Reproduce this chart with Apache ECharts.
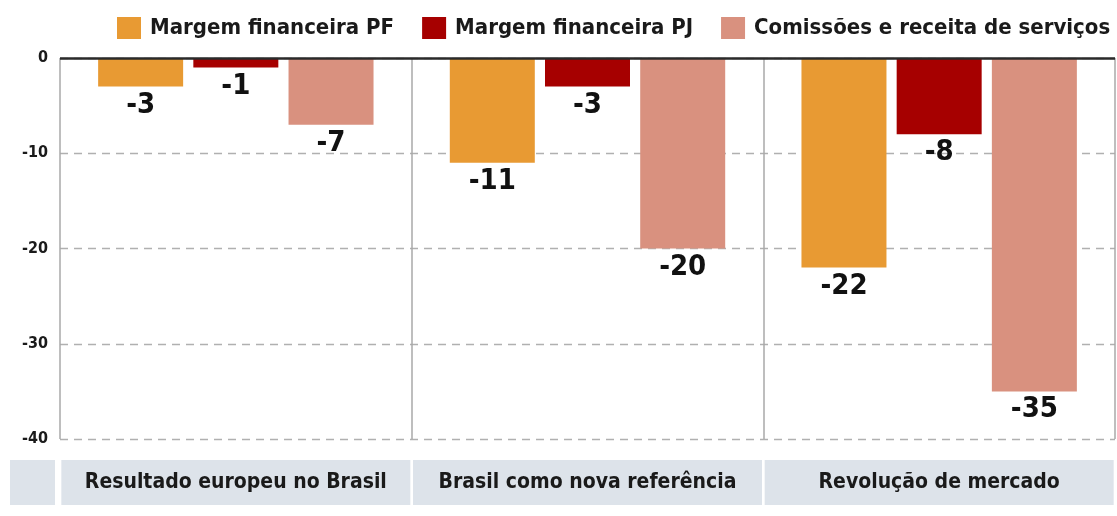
<!DOCTYPE html>
<html><head><meta charset="utf-8">
<script src="https://cdn.jsdelivr.net/npm/echarts@6/dist/echarts.min.js"></script>
<style>html,body{margin:0;padding:0;background:#fff}#c{width:1117px;height:516px}</style>
</head><body><div id="c"></div>
<script>
const categories = ['Resultado europeu no Brasil', 'Brasil como nova referência', 'Revolução de mercado'];
const seriesNames = ['Margem financeira PF', 'Margem financeira PJ', 'Comissões e receita de serviços'];
const pfValues = [-3, -11, -22];
const pjValues = [-1, -3, -8];
const comValues = [-7, -20, -35];
const yTicks = [0, -10, -20, -30, -40];

const FONT = "'DejaVu Sans Condensed', 'Liberation Sans Narrow', sans-serif";
const colors = ['#E89A33', '#A60000', '#D9917F'];
const allValues = [pfValues, pjValues, comValues];

const chart = echarts.init(document.getElementById('c'));
const option = {
  backgroundColor: '#fff',
  animation: false,
  textStyle: { fontFamily: FONT },
  legend: {
    top: 12, left: 112,
    itemWidth: 24, itemHeight: 22, itemGap: 28,
    icon: 'rect',
    textStyle: { fontFamily: FONT, fontWeight: 'bold', fontSize: 22, color: '#1a1a1a', padding: [0, 0, 0, 4] },
    data: seriesNames
  },
  grid: { left: 60, right: 2, top: 58, bottom: 77 },
  xAxis: {
    type: 'category', data: categories,
    axisLine: { show: false }, axisTick: { show: false },
    splitLine: { show: true, interval: 0, lineStyle: { color: '#a9a9a9', width: 1.5 } },
    axisLabel: {
      margin: 21, interval: 0,
      fontFamily: FONT, fontWeight: 'bold', fontSize: 21, color: '#1a1a1a',
      backgroundColor: '#dde3ea', width: 349, height: 45, lineHeight: 45, align: 'center'
    }
  },
  yAxis: {
    type: 'value', min: -40, max: 0, interval: 10,
    axisLine: { show: false }, axisTick: { show: false },
    axisLabel: {
      margin: 12, fontFamily: FONT, fontWeight: 'bold', fontSize: 16, color: '#1a1a1a',
      formatter: v => yTicks.includes(v) ? String(v) : ''
    },
    splitLine: { lineStyle: { color: '#b0b0b0', type: [8, 6], width: 1.3 } }
  },
  graphic: [{
    type: 'rect', left: 10, top: 460, z: -1,
    shape: { width: 45, height: 45 }, style: { fill: '#dde3ea' }
  }],
  series: seriesNames.map((name, i) => ({
    name, type: 'bar', data: allValues[i],
    barWidth: 85, barGap: '12%',
    itemStyle: { color: colors[i] },
    label: {
      show: true, position: 'bottom', distance: 4,
      fontFamily: FONT, fontWeight: 'bold', fontSize: 29, color: '#111'
    },
    markLine: i === 0 ? {
      silent: true, symbol: 'none', label: { show: false },
      lineStyle: { color: '#2a2a2a', type: 'solid', width: 2.5 },
      data: [{ yAxis: 0 }]
    } : undefined
  }))
};
chart.setOption(option);
</script></body></html>
